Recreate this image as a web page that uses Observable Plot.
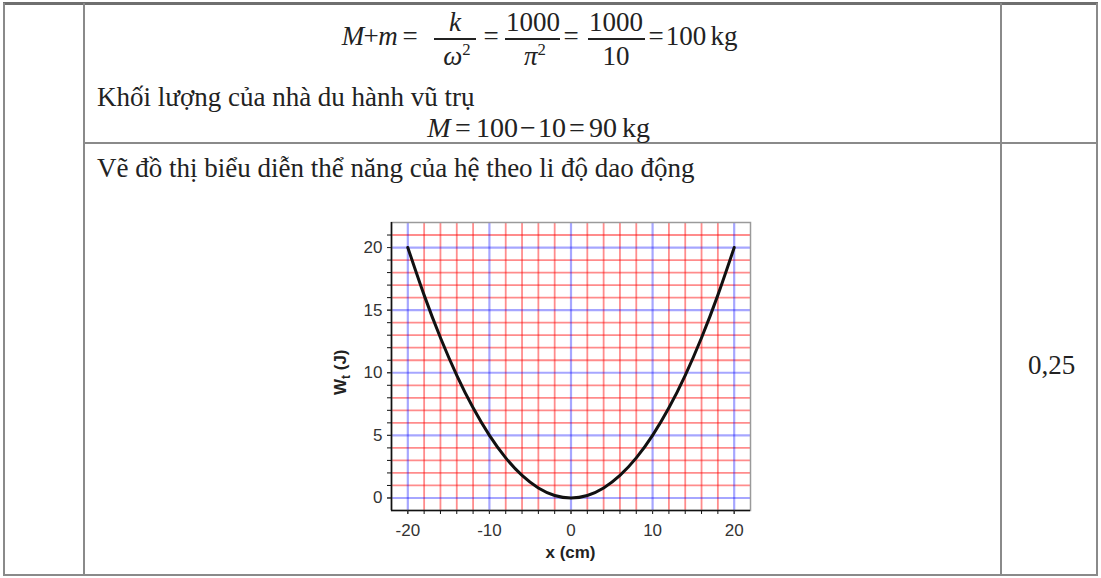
<!DOCTYPE html>
<html><head><meta charset="utf-8">
<script src="https://cdn.jsdelivr.net/npm/d3@7"></script>
<script src="https://cdn.jsdelivr.net/npm/@observablehq/plot@0.6"></script>
<style>
body{margin:0;width:1101px;height:578px;position:relative;background:#fff;overflow:hidden;font-family:"Liberation Serif","DejaVu Serif","Times New Roman","Noto Serif",serif;color:#222;}
.ln{position:absolute;background:#8a8a8a;}
.t{position:absolute;white-space:nowrap;font-size:27px;line-height:1;}
.p{position:absolute;white-space:nowrap;font-size:27px;line-height:1;transform:translateX(-50%);}
.p2{position:absolute;white-space:nowrap;font-size:28px;line-height:1;transform:translateX(-50%);}
.bar{position:absolute;height:1.6px;top:38px;background:#222;}
sup{font-size:62%;vertical-align:0.62em;line-height:0;}
i{font-style:italic}
#chart{position:absolute;left:320px;top:210px;}
</style>
</head><body>
<div class="ln" style="left:3px;top:2px;width:1095px;height:3px;background:#6f6f6f"></div>
<div class="ln" style="left:3px;top:3px;width:2px;height:573px"></div>
<div class="ln" style="left:83px;top:3px;width:2px;height:573px"></div>
<div class="ln" style="left:1000px;top:3px;width:2px;height:573px"></div>
<div class="ln" style="left:1096px;top:3px;width:2px;height:573px"></div>
<div class="ln" style="left:3px;top:574px;width:1095px;height:2px"></div>
<div class="ln" style="left:83px;top:142px;width:1015px;height:2px"></div>

<!-- M + m = k/ω² = 1000/π² = 1000/10 = 100 kg -->
<div class="p" style="left:353px;top:23px"><i>M</i></div>
<div class="p" style="left:371px;top:23px">+</div>
<div class="p" style="left:388px;top:23px"><i>m</i></div>
<div class="p" style="left:410px;top:23px">=</div>
<div class="bar" style="left:434px;width:42px"></div>
<div class="p" style="left:455px;top:9px"><i>k</i></div>
<div class="p" style="left:457px;top:43px"><i>ω</i><sup>2</sup></div>
<div class="p" style="left:491px;top:23px">=</div>
<div class="bar" style="left:505px;width:55px"></div>
<div class="p" style="left:533px;top:9px">1000</div>
<div class="p" style="left:535px;top:43px"><i>π</i><sup>2</sup></div>
<div class="p" style="left:571px;top:23px">=</div>
<div class="bar" style="left:588px;width:57px"></div>
<div class="p" style="left:616px;top:9px">1000</div>
<div class="p" style="left:616px;top:43px">10</div>
<div class="p" style="left:656px;top:23px">=</div>
<div class="p" style="left:686px;top:23px">100</div>
<div class="p" style="left:724px;top:23px">kg</div>

<div class="t" style="left:97px;top:84px">Khối lượng của nhà du hành vũ trụ</div>

<!-- M = 100 − 10 = 90 kg -->
<div class="p2" style="left:439px;top:114px"><i>M</i></div>
<div class="p2" style="left:463px;top:114px">=</div>
<div class="p2" style="left:497px;top:114px">100</div>
<div class="p2" style="left:528px;top:114px">−</div>
<div class="p2" style="left:552px;top:114px">10</div>
<div class="p2" style="left:577px;top:114px">=</div>
<div class="p2" style="left:603px;top:114px">90</div>
<div class="p2" style="left:636px;top:114px">kg</div>

<div class="t" style="left:97px;top:155px">Vẽ đồ thị biểu diễn thể năng của hệ theo li độ dao động</div>
<div class="t" style="left:1028px;top:352px">0,25</div>
<div id="chart"></div>
<script>
const xVals = [-20,-18,-16,-14,-12,-10,-8,-6,-4,-2,0,2,4,6,8,10,12,14,16,18,20];
const wtVals = [20,16.2,12.8,9.8,7.2,5,3.2,1.8,0.8,0.2,0,0.2,0.8,1.8,3.2,5,7.2,9.8,12.8,16.2,20];
const xTickLabels = [-20,-10,0,10,20];
const yTickLabels = [0,5,10,15,20];
const xMinorTicks = [-20,-18,-16,-14,-12,-10,-8,-6,-4,-2,0,2,4,6,8,10,12,14,16,18,20];
const yMinorTicks = [0,1,2,3,4,5,6,7,8,9,10,11,12,13,14,15,16,17,18,19,20,21];
const xGridRed = [-18,-16,-14,-12,-8,-6,-4,-2,2,4,6,8,12,14,16,18];
const xGridBlue = [-20,-10,0,10,20];
const yGridRed = [1,2,3,4,6,7,8,9,11,12,13,14,16,17,18,19,21];
const yGridBlue = [0,5,10,15,20];
const xLabel = "x (cm)";
const yLabelMain = "W", yLabelSub = "t", yLabelRest = " (J)";

const data = xVals.map((x,i)=>({x, wt: wtVals[i]}));
const red = {stroke:"#ff0000", strokeOpacity:0.45, strokeWidth:1.8};
const blue = {stroke:"#0000ff", strokeOpacity:0.35, strokeWidth:2.2};
const plot = Plot.plot({
  width:450, height:355, marginLeft:71, marginRight:20, marginTop:12, marginBottom:55,
  x:{domain:[-22,22]}, y:{domain:[-1,22]},
  style:{fontFamily:"'Liberation Sans', Arial, sans-serif", fontSize:"17px", color:"#333", background:"transparent"},
  marks:[
    Plot.ruleX(xGridRed, red),
    Plot.ruleY(yGridRed, red),
    Plot.ruleX(xGridBlue, blue),
    Plot.ruleY(yGridBlue, blue),
    Plot.frame({stroke:"#9a9a9a", strokeWidth:1.5}),
    Plot.ruleX([-22],{stroke:"#111", strokeWidth:1.6}),
    Plot.ruleY([-1],{stroke:"#111", strokeWidth:1.6}),
    Plot.axisX({ticks:xMinorTicks, tickSize:4, tickFormat:()=>"", label:null, stroke:"#111"}),
    Plot.axisX({ticks:xTickLabels, tickSize:4, tickPadding:9, label:null, fontSize:17, tickFormat:d=>String(d)}),
    Plot.axisY({ticks:yMinorTicks, tickSize:4, tickFormat:()=>"", label:null, stroke:"#111"}),
    Plot.axisY({ticks:yTickLabels, tickSize:4, tickPadding:5, label:null, fontSize:17}),
    Plot.line(data,{x:"x", y:"wt", curve:"natural", stroke:"#111", strokeWidth:3})
  ]
});
document.getElementById("chart").appendChild(plot);
const sx = plot.scale("x"), sy = plot.scale("y");
const svg = d3.select(plot);
svg.append("text").attr("x", sx.apply(0)).attr("y", 348).attr("text-anchor","middle")
  .attr("font-weight","bold").attr("font-size",17).attr("fill","#222").text(xLabel);
const yl = svg.append("text").attr("transform",`translate(${26},${sy.apply(10)}) rotate(-90)`)
  .attr("text-anchor","middle").attr("font-weight","bold").attr("font-size",17).attr("fill","#222");
yl.append("tspan").text(yLabelMain);
yl.append("tspan").attr("font-size",12).attr("dy",4).text(yLabelSub);
yl.append("tspan").attr("dy",-4).text(yLabelRest);
</script>
</body></html>
